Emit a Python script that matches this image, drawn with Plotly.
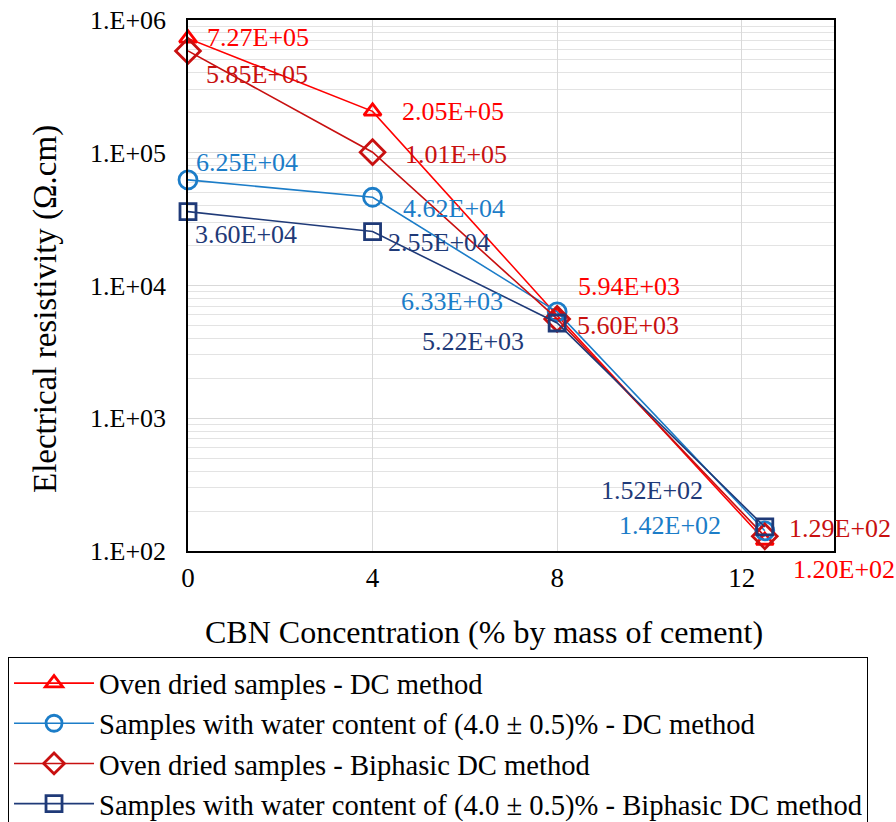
import plotly.graph_objects as go
import math

x_vals = [0, 4, 8, 12.5]
oven_dc = [7.27e5, 2.05e5, 5.94e3, 1.20e2]
water_dc = [6.25e4, 4.62e4, 6.33e3, 1.42e2]
oven_bi = [5.85e5, 1.01e5, 5.60e3, 1.29e2]
water_bi = [3.60e4, 2.55e4, 5.22e3, 1.52e2]

names = [
    "Oven dried samples - DC method",
    "Samples with water content of (4.0 ± 0.5)% - DC method",
    "Oven dried samples - Biphasic DC method",
    "Samples with water content of (4.0 ± 0.5)% - Biphasic DC method",
]
x_ticks = [0, 4, 8, 12]
y_ticks = [1e2, 1e3, 1e4, 1e5, 1e6]
y_ticktext = ["1.E+02", "1.E+03", "1.E+04", "1.E+05", "1.E+06"]
x_title = "CBN Concentration (% by mass of cement)"
y_title = "Electrical resistivity (Ω.cm)"

RED = "#FF0000"
BLUE = "#1C7DC8"
DRED = "#C81010"
NAVY = "#1F3A78"
FONT = "Liberation Serif, Times New Roman, serif"

series = [
    (oven_dc, RED, "triangle-up-open", 15),
    (water_dc, BLUE, "circle-open", 18),
    (oven_bi, DRED, "diamond-open", 19),
    (water_bi, NAVY, "square-open", 16),
]

fig = go.Figure()
for i, (vals, col, sym, sz) in enumerate(series):
    fig.add_trace(go.Scatter(
        x=x_vals, y=vals, name=names[i], mode="lines+markers",
        line=dict(color=col, width=1.6),
        marker=dict(symbol=sym, size=sz, color=col, line=dict(color=col, width=2.8)),
        cliponaxis=False, legendgroup=str(i),
    ))

offsets = {
    0: [(17, 1, "left"), (27, 0, "left"), (19, 29, "left"), (26, -29, "left")],
    1: [(6, 17, "left"), (28, -11, "left"), (-52, 10, "right"), (-42, 5, "right")],
    2: [(16, -24, "left"), (30, -2, "left"), (18, -7, "left"), (22, 8, "left")],
    3: [(5, -23, "left"), (13, -11, "left"), (-31, -19, "right"), (-60, 36, "right")],
}
for i, (vals, col, sym, sz) in enumerate(series):
    for j, v in enumerate(vals):
        xs, ys, xa = offsets[i][j]
        fig.add_annotation(
            x=x_vals[j], y=math.log10(v), xref="x", yref="y",
            text=f"{v:.2E}", showarrow=False, xanchor=xa, yanchor="middle",
            xshift=xs, yshift=ys, font=dict(family=FONT, size=26, color=col),
        )

# axis titles
fig.add_annotation(x=0.4582, y=-0.1525, xref="paper", yref="paper", text=x_title,
                   showarrow=False, xanchor="center", yanchor="middle",
                   font=dict(family=FONT, size=32, color="black"))
fig.add_annotation(x=-0.2214, y=0.4557, xref="paper", yref="paper", text=y_title,
                   showarrow=False, xanchor="center", yanchor="middle", textangle=-90,
                   font=dict(family=FONT, size=33, color="black"))

minor_vals = [m * 10 ** d for d in range(2, 6) for m in range(2, 10)]

fig.update_layout(
    width=896, height=822,
    margin=dict(l=188, r=62, t=20, b=271, autoexpand=False),
    paper_bgcolor="white", plot_bgcolor="white",
    font=dict(family=FONT, size=26, color="black"),
    showlegend=True,
    legend=dict(
        x=-0.2786, y=-0.1996, xanchor="left", yanchor="top",
        bordercolor="black", borderwidth=1, bgcolor="white",
        font=dict(family=FONT, size=28.6, color="black"),
        tracegroupgap=0, traceorder="grouped", itemwidth=80,
    ),
    xaxis=dict(
        range=[0, 14], tickvals=x_ticks, showgrid=True, gridcolor="#d9d9d9",
        showline=True, linecolor="black", linewidth=1.5, mirror=True,
        zeroline=False, ticks="", automargin=False, ticklabelstandoff=2,
        tickfont=dict(family=FONT, size=27),
    ),
    yaxis=dict(
        type="log", range=[2, 6], tickvals=y_ticks, ticktext=y_ticktext,
        showgrid=True, gridcolor="#d9d9d9",
        minor=dict(tickvals=minor_vals, showgrid=True, gridcolor="#e3e3e3", ticks=""),
        showline=True, linecolor="black", linewidth=1.5, mirror=True,
        zeroline=False, ticks="", automargin=False, ticklabelstandoff=15,
        tickfont=dict(family=FONT, size=26),
    ),
)

fig.write_html("out.html", post_script="document.body.style.margin='0';",
               config={"displayModeBar": False})
